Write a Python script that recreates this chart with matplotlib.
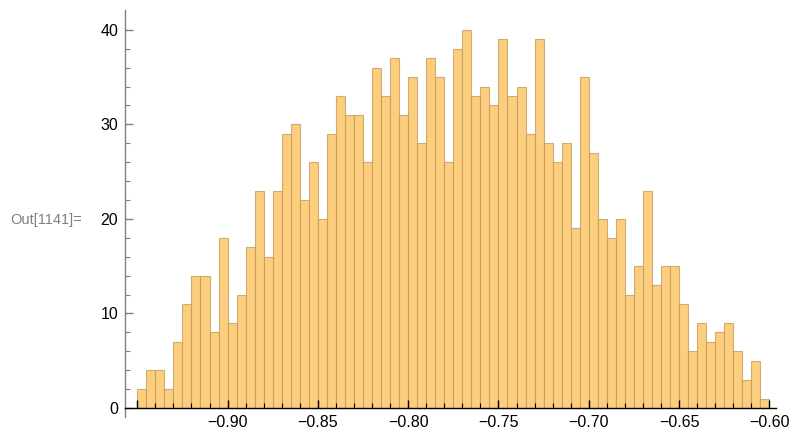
import matplotlib
matplotlib.use("Agg")
import matplotlib.pyplot as plt
import numpy as np

# histogram data: 70 bins of width 0.005 starting at -0.95
bin_start = -0.95
bin_width = 0.005
counts = [2, 4, 4, 2, 7, 11, 14, 14, 8, 18,
          9, 12, 17, 23, 16, 23, 29, 30, 22, 26,
          20, 29, 33, 31, 31, 26, 36, 33, 37, 31,
          35, 28, 37, 35, 26, 38, 40, 33, 34, 32,
          39, 33, 34, 29, 39, 28, 26, 28, 19, 35,
          27, 20, 18, 20, 12, 15, 23, 13, 15, 15,
          11, 6, 9, 7, 8, 9, 6, 3, 5, 1]
xticks = [-0.95, -0.90, -0.85, -0.80, -0.75, -0.70, -0.65, -0.60]
xticklabels = ["", "\u22120.90", "\u22120.85", "\u22120.80", "\u22120.75",
               "\u22120.70", "\u22120.65", "\u22120.60"]
yticks = [0, 10, 20, 30, 40]

plt.rcParams['font.family'] = ['Liberation Sans', 'DejaVu Sans']

fig = plt.figure(figsize=(7.94, 4.36), dpi=100)
ax = fig.add_axes([125/794, 19/436, (776-125)/794, (426-19)/436])

edges = bin_start + bin_width*np.arange(len(counts))
ax.bar(edges, counts, width=bin_width, align='edge',
       color='#fcce7e', edgecolor=(0.74, 0.58, 0.33, 0.7), linewidth=0.8)

ax.set_xlim(-0.9568, -0.5963)
ax.set_ylim(-0.95, 42.1)

for s in ['top', 'right']:
    ax.spines[s].set_visible(False)
ax.spines['bottom'].set_position(('data', 0))
ax.spines['bottom'].set_color('black')
ax.spines['bottom'].set_linewidth(1.0)
ax.spines['left'].set_color('#808080')
ax.spines['left'].set_linewidth(1.0)

ax.set_xticks(xticks)
ax.set_xticklabels(xticklabels)
ax.set_xticks(np.arange(-0.95, -0.595, 0.01), minor=True)
ax.set_yticks(yticks)
ax.set_yticks(np.arange(0, 42, 2), minor=True)

ax.tick_params(axis='x', which='major', direction='in', length=6, width=1,
               color='black', labelsize=11.5, pad=5)
ax.tick_params(axis='x', which='minor', direction='in', length=3.5, width=0.8,
               color='black')
ax.tick_params(axis='y', which='major', direction='in', length=6, width=1,
               color='#808080', labelsize=11.5, pad=5)
ax.tick_params(axis='y', which='minor', direction='in', length=3.5, width=0.8,
               color='#808080')

fig.text(10/794, 1-220/436, "Out[1141]=", color='#808080', fontsize=10.5,
         va='center', ha='left')

plt.savefig("out.png", dpi=100)
